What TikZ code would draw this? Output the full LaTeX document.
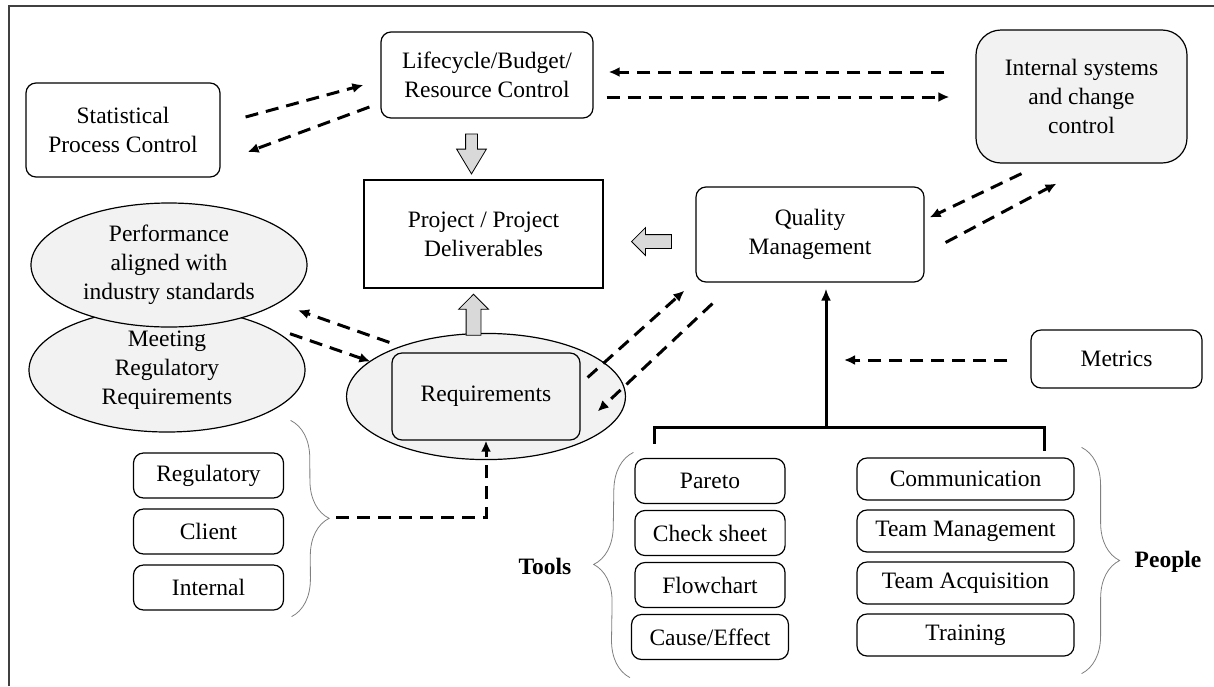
\documentclass[tikz,border=0pt]{standalone}
\usepackage{fontspec}
\setmainfont{Liberation Serif}
\usetikzlibrary{shapes,positioning,arrows.meta,fit,calc,decorations.pathreplacing}
\pgfdeclarelayer{background}
\pgfsetlayers{background,main}
\definecolor{lgray}{HTML}{F2F2F2}
\definecolor{agray}{HTML}{D9D9D9}

\begin{document}
\begin{tikzpicture}[x=1pt, y=-1pt,
						every node/.style={on grid, font=\fontsize{23.5}{29}\selectfont},
						rbox/.style={draw, rounded corners=10pt, line width=1.2pt, align=center, inner sep=0pt},
						item/.style={rbox, minimum width=150pt, minimum height=45pt, inner xsep=18pt},
						pitem/.style={item, minimum width=217pt, minimum height=42pt},
						oval/.style={draw, ellipse, fill=lgray, line width=1.2pt, minimum width=276pt, minimum height=124pt, inner sep=0pt, align=center},
						lbl/.style={font=\fontsize{23.5}{29}\selectfont\bfseries},
						blk/.style={single arrow, draw, fill=agray, line width=0.8pt, inner sep=6.5pt, single arrow head extend=7pt, minimum height=40pt},
						dasharr/.style={-{Latex[length=11pt,width=10pt]}, line width=3pt, dash pattern=on 13pt off 8pt},
						tree/.style={line width=3pt},
						brc/.style={decorate, decoration={brace, amplitude=38pt}, gray, line width=0.8pt},
						every fit/.style={draw, ellipse, fill=lgray, line width=1.2pt},
						node distance=52pt]
	\useasboundingbox (0,0) rectangle (1214,686);
	\draw[line width=1.2pt, darkgray] (9,686) |- (1214,6);

	\node[rbox, minimum width=194pt, minimum height=94pt] (spc) at (123,130) {Statistical\\Process Control};
	\node[rbox, minimum width=212pt, minimum height=86pt] (lc) at (487,75) {Lifecycle/Budget/\\Resource Control};
	\node[rbox, fill=lgray, rounded corners=25pt, minimum width=211pt, minimum height=133pt] (isc) at (1081.5,96.5) {Internal systems\\and change\\control};
	\node[draw, line width=1.2pt, align=center, minimum width=239pt, minimum height=108pt] (proj) at (483.5,234) {Project / Project\\Deliverables};
	\node[rbox, minimum width=228pt, minimum height=95pt] (qm) at (810,234.5) {Quality\\Management};
	\node[rbox, fill=lgray, minimum width=188pt, minimum height=87pt] (req) at (486,396.5) {Requirements};
	\node[oval] (meet) at (167,370) {Meeting\\Regulatory\\Requirements};
	\node[oval] (perf) at (169,265) {Performance\\aligned with\\industry standards};
	\node[rbox, minimum width=171pt, minimum height=58pt] (met) at (1116.5,359) {Metrics};

	\node[item] (reg) at (208.5,475.5) {Regulatory};
	\node[item, below=56pt of reg] (cli) {Client};
	\node[item, below=56pt of cli] (int) {Internal};

	\node[item] (par) at (710,481) {Pareto};
	\node[item, below=of par] (chk) {Check sheet};
	\node[item, below=of chk] (flo) {Flowchart};
	\node[item, below=of flo] (cau) {Cause/Effect};

	\node[pitem] (com) at (965.5,479) {Communication};
	\node[pitem, below=of com] (tmg) {Team Management};
	\node[pitem, below=of tmg] (tacq) {Team Acquisition};
	\node[pitem, below=of tacq] (trn) {Training};

	\node[lbl] (tools) at (545,566) {Tools};
	\node[lbl] (people) at (1168,562) {People};

	% block arrows
	\node[blk, shape border rotate=270, inner sep=5.5pt, single arrow head extend=9pt, single arrow tip angle=62] (ad) at (471.5,149) {};
	\node[blk, shape border rotate=180] (al) at (655,241.5) {};
	\node[blk, shape border rotate=90, inner sep=7pt, single arrow head extend=7.5pt, minimum height=41pt] (au) at (473.5,318.5) {};

	\begin{pgfonlayer}{background}
		\node[fit=(req), inner xsep=4pt, inner ysep=0.5pt] (reqo) {};
	\end{pgfonlayer}

	% dashed links
	\draw[dasharr] ([xshift=25pt,yshift=13pt]spc.east) -- ([xshift=-17pt,yshift=-10pt]lc.west);
	\draw[dasharr] ([xshift=-11pt,yshift=-32pt]lc.west) -- ([xshift=27pt,yshift=-22pt]spc.east);
	\draw[dasharr] ([xshift=-31pt,yshift=24.5pt]isc.west) -- ([xshift=15pt,yshift=3pt]lc.east);
	\draw[dasharr] ([xshift=13pt,yshift=-22pt]lc.east) -- ([xshift=-26pt,yshift=-0.5pt]isc.west);
	\draw[dasharr] ([xshift=-60pt,yshift=-10pt]isc.south) -- ([xshift=5pt,yshift=17pt]qm.east);
	\draw[dasharr] ([xshift=21pt,yshift=-8pt]qm.east) -- ([xshift=-25pt,yshift=-20pt]isc.south);
	\draw[dasharr] ([xshift=7pt,yshift=19pt]req.east) -- ([xshift=-11pt,yshift=-8pt]qm.south west);
	\draw[dasharr] ([xshift=17pt,yshift=-21pt]qm.south west) -- ([xshift=17pt,yshift=-15pt]req.east);
	\draw[dasharr] ([xshift=-2pt,yshift=10pt]req.north west) -- ([xshift=31pt,yshift=-1pt]perf.south east);
	\draw[dasharr] ([xshift=25pt,yshift=-8pt]meet.north east) -- ([xshift=-21pt,yshift=35pt]req.west);
	\coordinate (mend) at (844,360);
	\draw[dasharr] ([xshift=-23pt,yshift=-1pt]met.west) -- (mend);

	% braces
	\draw[brc] ([xshift=6.5pt,yshift=32pt]reg.north east) -- ([xshift=7.5pt,yshift=-6pt]int.south east);
	\draw[brc] ([xshift=-1pt,yshift=-17.5pt]cau.south west) -- ([xshift=-1pt,yshift=5.5pt]par.north west);
	\draw[brc] ([xshift=7pt,yshift=10pt]com.north east) -- ([xshift=7pt,yshift=-17pt]trn.south east);
	\coordinate (rtip) at ([xshift=52pt,yshift=14pt]cli.east);
	\draw[dasharr] (rtip) -| (req);

	% tools and people up to quality management
	\coordinate (tb) at (826,428);
	\draw[tree] ([xshift=20pt,yshift=14pt]par.north west) |- ([xshift=-30pt,yshift=30pt]com.north east) -- ([xshift=-30pt,yshift=6pt]com.north east);
	\draw[tree, -{Latex[length=12pt,width=10pt]}, shorten >=6pt] (tb) -- (tb |- qm.south);
\end{tikzpicture}
\end{document}
